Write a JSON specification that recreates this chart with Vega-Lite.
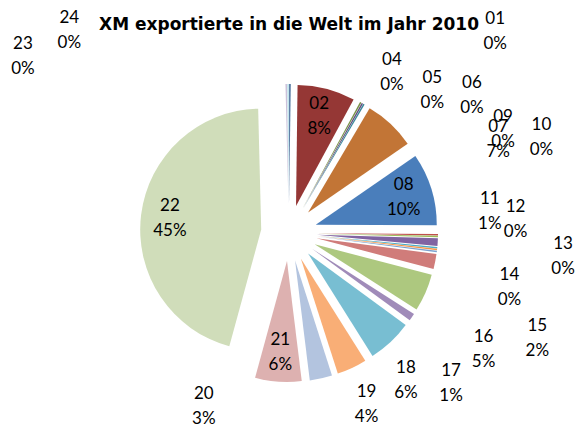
{
  "$schema": "https://vega.github.io/schema/vega-lite/v6.json",
  "width": 578,
  "height": 428,
  "autosize": {"type": "none"},
  "padding": 0,
  "background": "white",
  "view": {"stroke": null},
  "config": {
    "text": {"font": "Lato", "fontSize": 17, "lineBreak": "\n", "lineHeight": 25, "align": "center", "baseline": "middle", "color": "#000000", "dy": -12.5}
  },
  "title": {
    "text": "XM exportierte in die Welt im Jahr 2010",
    "font": "DejaVu Sans",
    "fontSize": 17,
    "fontWeight": "bold",
    "color": "#000000",
    "anchor": "middle",
    "frame": "group",
    "baseline": "alphabetic",
    "offset": -47
  },
  "data": {
    "values": [
      {"code": "01", "value": 0.2},
      {"code": "02", "value": 7.7},
      {"code": "04", "value": 0.2},
      {"code": "05", "value": 0.2},
      {"code": "06", "value": 0.2},
      {"code": "07", "value": 6.9},
      {"code": "08", "value": 9.7},
      {"code": "09", "value": 0.2},
      {"code": "10", "value": 0.2},
      {"code": "11", "value": 1.0},
      {"code": "12", "value": 0.2},
      {"code": "13", "value": 0.2},
      {"code": "14", "value": 0.2},
      {"code": "15", "value": 2.0},
      {"code": "16", "value": 5.0},
      {"code": "17", "value": 1.0},
      {"code": "18", "value": 6.0},
      {"code": "19", "value": 4.0},
      {"code": "20", "value": 3.0},
      {"code": "21", "value": 6.2},
      {"code": "22", "value": 45.4},
      {"code": "23", "value": 0.2},
      {"code": "24", "value": 0.2}
    ]
  },
  "transform": [
    {"calculate": "datum.code + '\\n' + format(datum.value / 100, '.0%')", "as": "label"}
  ],
  "resolve": {"scale": {"theta": "independent"}},
  "layer": [
    {
      "mark": {
        "type": "arc",
        "outerRadius": 121,
        "x": {"expr": "width / 2 + 28 * sin(PI * (datum.value_start + datum.value_end) / 100.1)"},
        "y": {"expr": "height / 2 + 19 - 28 * cos(PI * (datum.value_start + datum.value_end) / 100.1)"}
      },
      "encoding": {
        "theta": {"field": "value", "type": "quantitative", "stack": true},
        "order": {"field": "code", "type": "ordinal"},
        "color": {
          "field": "code",
          "type": "nominal",
          "legend": null,
          "scale": {
            "domain": ["01","02","04","05","06","07","08","09","10","11","12","13","14","15","16","17","18","19","20","21","22","23","24"],
            "range": ["#3D6493","#953735","#789145","#634E7E","#3A869A","#C27536","#4A7EBB","#C0504D","#9BBB59","#8064A2","#4BACC6","#F79646","#7BA1CE","#D07C7A","#ADC87F","#A08BB9","#78BED2","#F9AE76","#B3C4DF","#DDB1B0","#D0DDBA","#CCC1DA","#B7DEE8"]
          }
        }
      }
    },
    {
      "mark": {"type": "text", "radius": 120, "y": {"expr": "height / 2 + 19"}},
      "encoding": {
        "theta": {"field": "value", "type": "quantitative", "stack": true},
        "order": {"field": "code", "type": "ordinal"},
        "text": {
          "condition": {"test": "indexof(['02','08','21','22'], datum.code) >= 0", "field": "label"},
          "value": ""
        }
      }
    },
    {
      "transform": [{"filter": {"field": "code", "oneOf": ["05", "11"]}}],
      "mark": {"type": "text", "radius": 202, "y": {"expr": "height / 2 + 19"}},
      "encoding": {
        "theta": {"field": "code", "type": "ordinal", "scale": {"type": "point", "domain": ["05", "11"], "range": [0.789, 1.463], "padding": 0}},
        "text": {"field": "label"}
      }
    },
    {
      "transform": [{"filter": {"field": "code", "oneOf": ["06", "07"]}}],
      "mark": {"type": "text", "radius": 229, "y": {"expr": "height / 2 + 19"}},
      "encoding": {
        "theta": {"field": "code", "type": "ordinal", "scale": {"type": "point", "domain": ["06", "07"], "range": [0.925, 1.152], "padding": 0}},
        "text": {"field": "label"}
      }
    },
    {
      "transform": [{"filter": {"field": "code", "oneOf": ["12", "14", "16"]}}],
      "mark": {"type": "text", "radius": 227, "y": {"expr": "height / 2 + 19"}},
      "encoding": {
        "theta": {"field": "code", "type": "ordinal", "scale": {"type": "point", "domain": ["12", "14", "16"], "range": [1.51, 2.112], "padding": 0}},
        "text": {"field": "label"}
      }
    },
    {
      "transform": [{"filter": {"field": "code", "oneOf": ["10", "15"]}}],
      "mark": {"type": "text", "radius": 270, "y": {"expr": "height / 2 + 19"}},
      "encoding": {
        "theta": {"field": "code", "type": "ordinal", "scale": {"type": "point", "domain": ["10", "15"], "range": [1.208, 1.974], "padding": 0}},
        "text": {"field": "label"}
      }
    },
    {
      "transform": [{"filter": {"field": "code", "oneOf": ["18", "19"]}}],
      "mark": {"type": "text", "radius": 188, "y": {"expr": "height / 2 + 19"}},
      "encoding": {
        "theta": {"field": "code", "type": "ordinal", "scale": {"type": "point", "domain": ["18", "19"], "range": [2.47, 2.716], "padding": 0}},
        "text": {"field": "label"}
      }
    },
    {
      "transform": [{"filter": {"field": "code", "equal": "13"}}],
      "mark": {"type": "text", "radius": 275, "theta": 1.655, "y": {"expr": "height / 2 + 19"}},
      "encoding": {"text": {"field": "label"}}
    },
    {
      "transform": [{"filter": {"field": "code", "equal": "17"}}],
      "mark": {"type": "text", "radius": 221, "theta": 2.318, "y": {"expr": "height / 2 + 19"}},
      "encoding": {"text": {"field": "label"}}
    },
    {
      "transform": [{"filter": {"field": "code", "equal": "23"}}],
      "mark": {"type": "text", "radius": 319, "theta": 5.297, "y": {"expr": "height / 2 + 19"}},
      "encoding": {"text": {"field": "label"}}
    },
    {
      "transform": [{"filter": {"field": "code", "equal": "24"}}],
      "mark": {"type": "text", "radius": 299, "theta": 5.458, "y": {"expr": "height / 2 + 19"}},
      "encoding": {"text": {"field": "label"}}
    },
    {
      "transform": [{"filter": {"field": "code", "equal": "04"}}],
      "mark": {"type": "text", "radius": 191, "theta": 0.569, "y": {"expr": "height / 2 + 19"}},
      "encoding": {"text": {"field": "label"}}
    },
    {
      "transform": [{"filter": {"field": "code", "equal": "09"}}],
      "mark": {"type": "text", "radius": 238, "theta": 1.119, "y": {"expr": "height / 2 + 19"}},
      "encoding": {"text": {"field": "label"}}
    },
    {
      "transform": [{"filter": {"field": "code", "equal": "20"}}],
      "mark": {"type": "text", "radius": 193, "theta": 3.599, "y": {"expr": "height / 2 + 19"}},
      "encoding": {"text": {"field": "label"}}
    },
    {
      "transform": [{"filter": {"field": "code", "equal": "01"}}],
      "mark": {"type": "text", "radius": 288, "theta": 0.798, "y": {"expr": "height / 2 + 19"}},
      "encoding": {"text": {"field": "label"}}
    }
  ]
}
